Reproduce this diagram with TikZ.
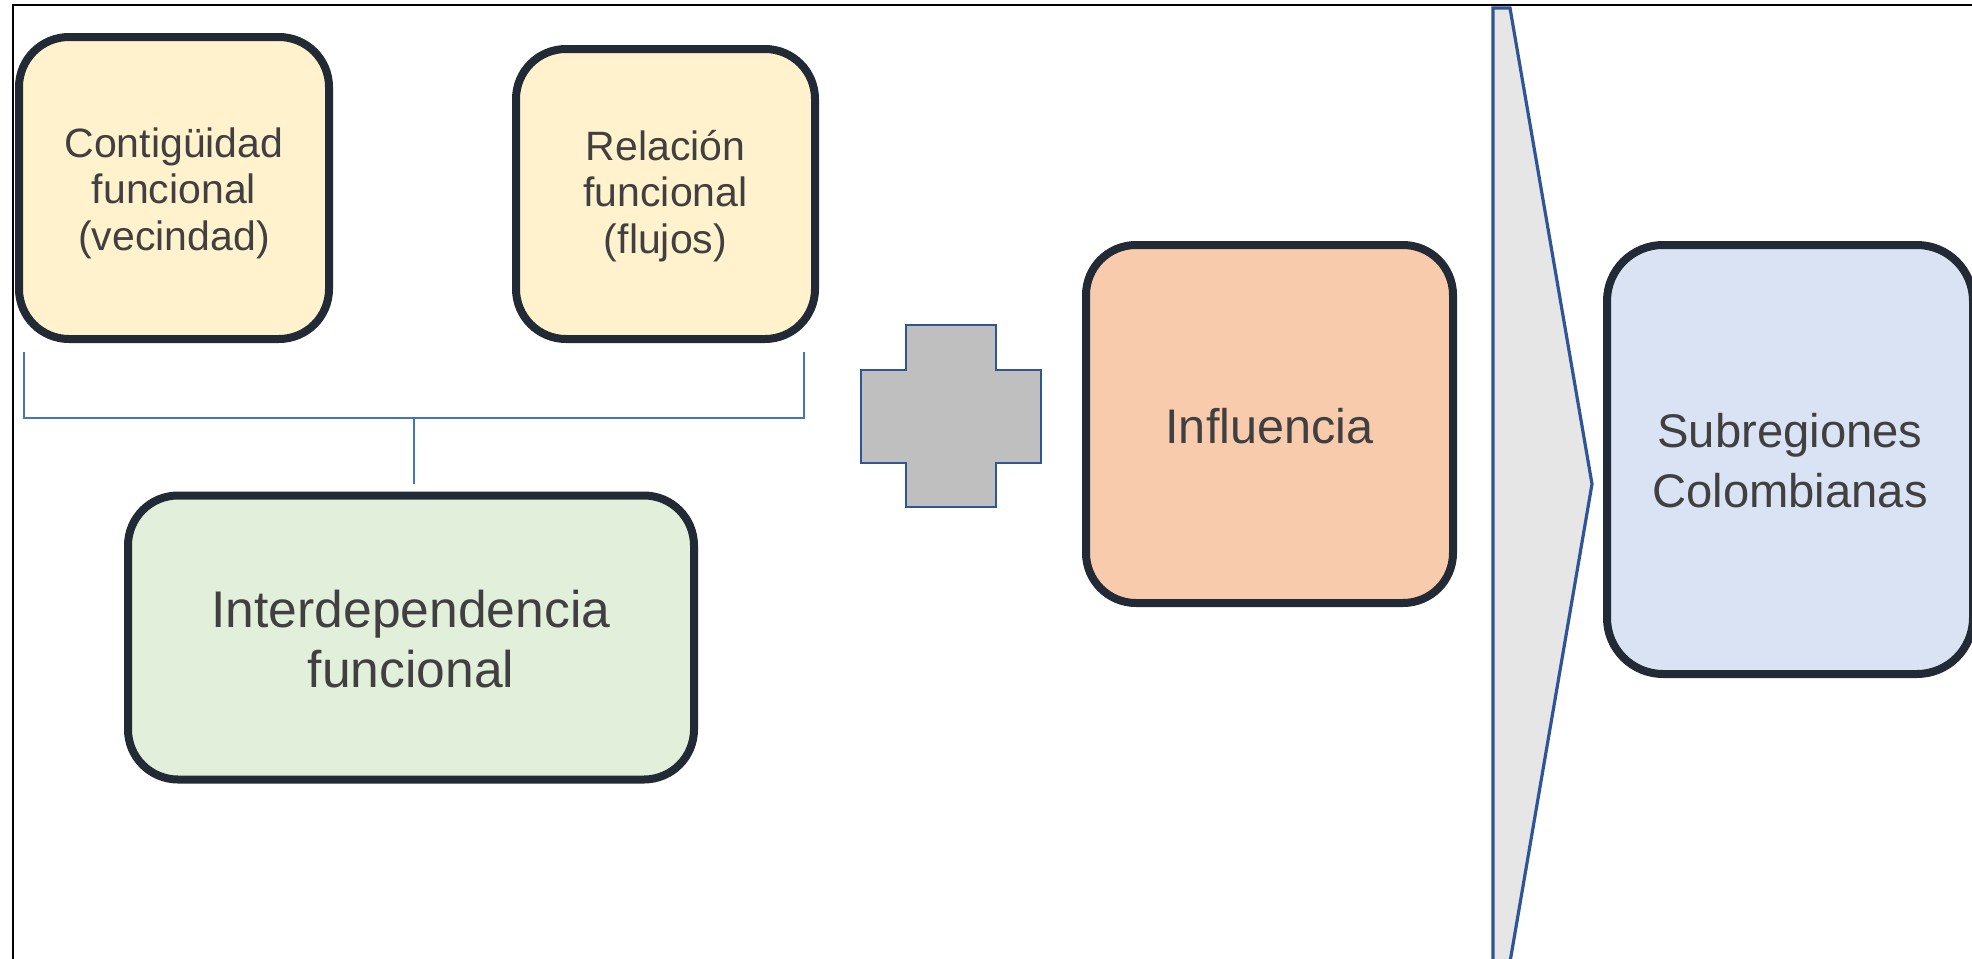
\documentclass[tikz,border=0pt]{standalone}
\usepackage{fontspec}
\setmainfont{Liberation Sans}
\definecolor{boxline}{HTML}{222A35}
\definecolor{txt}{HTML}{404040}
\definecolor{yel}{HTML}{FFF2CC}
\definecolor{grn}{HTML}{E2EFDA}
\definecolor{org}{HTML}{F8CBAD}
\definecolor{blu}{HTML}{DAE3F3}
\definecolor{brk}{HTML}{4472C4}
\definecolor{darkblue}{HTML}{2F5597}
\definecolor{plusgray}{HTML}{BFBFBF}
\definecolor{chevgray}{HTML}{E7E6E6}
\tikzset{
  rbox/.style={draw=boxline, line width=4pt, rounded corners=25pt, inner sep=0pt},
  boxtext/.style={align=center, text=txt, inner sep=0pt},
  fsmall/.style={font=\fontsize{20.5pt}{23.2pt}\selectfont},
  bracketline/.style={draw=brk, line width=1pt},
}
\begin{document}
\begin{tikzpicture}[x=0.5pt,y=-0.5pt]
\useasboundingbox (0,0) rectangle (1972,959);
% frame
\draw[line width=1.4pt, line cap=rect] (13,960) -- (13,5) -- (1975,5);
% boxes
\node[rbox, fill=yel, minimum width=155pt, minimum height=151pt,
  label={[boxtext, fsmall, yshift=-2.5pt]center:{Contigüidad\\funcional\\(vecindad)}}] (contig) at (174,188) {};
\node[rbox, fill=yel, minimum width=149.5pt, minimum height=145pt,
  label={[boxtext, fsmall, yshift=-1pt]center:{Relación\\funcional\\(flujos)}}] (rel) at (665.5,194) {};
\node[rbox, fill=grn, minimum width=283pt, minimum height=142pt,
  label={[boxtext, font=\fontsize{25.8pt}{30pt}\selectfont, yshift=-1pt]center:{Interdependencia\\funcional}}] (inter) at (411,637.5) {};
\node[rbox, fill=org, minimum width=183.5pt, minimum height=179pt,
  label={[boxtext, font=\fontsize{24.3pt}{29pt}\selectfont, yshift=-1.3pt]center:{Influencia}}] (infl) at (1269.5,424) {};
\node[rbox, fill=blu, minimum width=183pt, minimum height=214.5pt, rounded corners=28pt,
  label={[boxtext, font=\fontsize{23.6pt}{30pt}\selectfont, yshift=-0.5pt]center:{Subregiones\\Colombianas}}] (subr) at (1790,459.5) {};
% bracket
\coordinate (bl) at (24,352);
\coordinate (br) at (804,352);
\coordinate (bm) at (414,417.5);
\coordinate (bs) at (414,484);
\draw[bracketline] (bl) |- (bm) -| (br);
\draw[bracketline] (bm) -- (bs);
% plus
\draw[fill=plusgray, draw=darkblue, line width=1.4pt]
  (906,325) -- (996,325) -- (996,370) -- (1041,370) -- (1041,463) -- (996,463) -- (996,507)
  -- (906,507) -- (906,463) -- (861,463) -- (861,370) -- (906,370) -- cycle;
% chevron
\draw[fill=chevgray, draw=darkblue, line width=1.6pt, line join=miter]
  (1493,8) -- (1510,8) -- (1592,484) -- (1510,962) -- (1493,962) -- cycle;
\end{tikzpicture}
\end{document}
